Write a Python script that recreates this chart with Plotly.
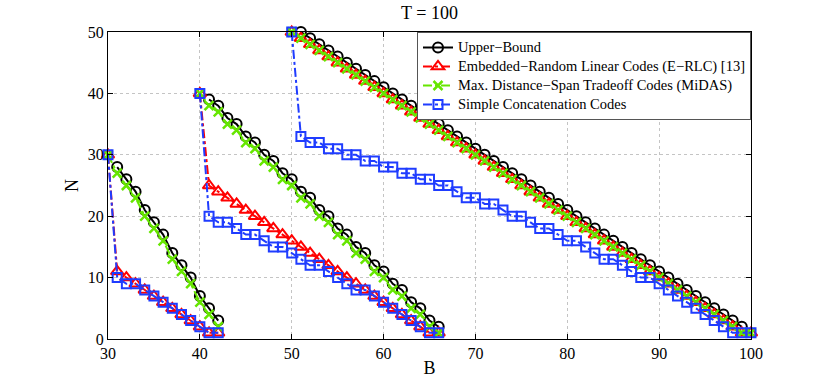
import plotly.graph_objects as go

# burst length B for each of the three curve families (N0 = 30, 40, 50)
b_g1 = list(range(30, 43))
b_g2 = list(range(40, 67))
b_g3 = list(range(50, 101))

# Upper bound (drawn from B0+1)
ub_b1 = list(range(31, 43))
ub_g1 = [28, 26, 24, 21, 19, 17, 14, 12, 10, 7, 5, 3]
ub_b2 = list(range(41, 67))
ub_g2 = [39, 38, 36, 35, 33, 32, 30, 29, 27, 26, 24, 23, 21, 20, 18, 17,
         15, 14, 12, 11, 9, 8, 6, 5, 3, 2]
ub_b3 = list(range(51, 100))
ub_g3 = [50, 49, 48, 47, 46, 45, 44, 43, 42, 41, 40, 39, 38, 37, 36, 35, 34,
         33, 32, 31, 30, 29, 28, 27, 26, 25, 24, 23, 22, 21, 20, 19, 18, 17,
         16, 15, 14, 13, 12, 11, 10, 9, 8, 7, 6, 5, 4, 3, 2]

# Embedded-Random Linear Codes
erlc_g1 = [30, 11, 10, 9, 8, 7, 6, 5, 4, 3, 2, 1, 1]
erlc_g2 = [40, 25, 24, 23, 22, 21, 20, 19, 18, 17, 16, 15, 14, 13, 12, 11,
           10, 9, 8, 7, 6, 5, 4, 3, 2, 1, 1]
erlc_g3 = [50, 49, 48, 47, 46, 45, 44, 43, 42, 41, 40, 39, 38, 37, 36, 35, 34,
           33, 32, 31, 30, 29, 28, 27, 26, 25, 24, 23, 22, 21, 20, 19, 18, 17,
           16, 15, 14, 13, 12, 11, 10, 9, 8, 7, 6, 5, 4, 3, 2, 1, 1]

# MiDAS
midas_g1 = [30, 27, 25, 23, 20, 18, 16, 13, 11, 9, 6, 4, 2]
midas_g2 = [40, 38, 37, 35, 34, 32, 31, 29, 28, 26, 25, 23, 22, 20, 19, 17,
            16, 14, 13, 11, 10, 8, 7, 5, 4, 2, 1]
midas_g3 = [50, 49, 48, 47, 46, 45, 44, 43, 42, 41, 40, 39, 38, 37, 36, 35, 34,
            33, 32, 31, 30, 29, 28, 27, 26, 25, 24, 23, 22, 21, 20, 19, 18, 17,
            16, 15, 14, 13, 12, 11, 10, 9, 8, 7, 6, 5, 4, 3, 2, 1, 1]

# Simple concatenation
simple_g1 = [30, 10, 9, 9, 8, 7, 6, 5, 4, 3, 2, 1, 1]
simple_g2 = [40, 20, 19, 19, 18, 17, 17, 16, 15, 15, 14, 13, 12, 12, 11, 10,
             9, 8, 8, 7, 6, 5, 4, 3, 2, 1, 1]
simple_g3 = [50, 33, 32, 32, 31, 31, 30, 30, 29, 29, 28, 28, 27, 27, 26, 26,
             25, 25, 24, 23, 23, 22, 22, 21, 20, 20, 19, 18, 18, 17, 16, 16,
             15, 14, 13, 13, 12, 11, 10, 10, 9, 8, 7, 6, 5, 4, 3, 2, 1, 1, 1]

FONT = "Liberation Serif, Times New Roman, serif"


def big(label):
    # legend rows stay tight (row height follows legend font size), text drawn larger
    return f'<span style="font-size:14.5px">{label}</span>'


series = [
    ("Upper−Bound", [(ub_b1, ub_g1), (ub_b2, ub_g2), (ub_b3, ub_g3)],
     dict(color="black", width=2, dash="solid"),
     dict(symbol="circle-open", size=10, color="black", line=dict(width=2, color="black"))),
    ("Embedded−Random Linear Codes (E−RLC) [13]",
     [(b_g1, erlc_g1), (b_g2, erlc_g2), (b_g3, erlc_g3)],
     dict(color="#ff0000", width=2, dash="dashdot"),
     dict(symbol="triangle-up-open", size=11, color="#ff0000", line=dict(width=2, color="#ff0000"))),
    ("Max. Distance−Span Tradeoff Codes (MiDAS)",
     [(b_g1, midas_g1), (b_g2, midas_g2), (b_g3, midas_g3)],
     dict(color="#66e600", width=2, dash="dashdot"),
     dict(symbol="x-thin-open", size=9, color="#66e600", line=dict(width=2.5, color="#66e600"))),
    ("Simple Concatenation Codes",
     [(b_g1, simple_g1), (b_g2, simple_g2), (b_g3, simple_g3)],
     dict(color="#1f3cff", width=2, dash="dashdot"),
     dict(symbol="square-open", size=9, color="#1f3cff", line=dict(width=2, color="#1f3cff"))),
]

fig = go.Figure()
for name, groups, line, marker in series:
    for i, (bx, ny) in enumerate(groups):
        fig.add_trace(go.Scatter(
            x=bx, y=ny, mode="lines+markers", name=big(name),
            legendgroup=name, showlegend=(i == 0),
            line=line, marker=marker, cliponaxis=False,
        ))

axis_common = dict(
    showline=True, linecolor="black", linewidth=1, mirror="ticks",
    ticks="inside", ticklen=5, tickcolor="black", automargin=False,
    showgrid=True, gridcolor="#c4c4c4", griddash="dot", gridwidth=1,
    zeroline=False, tickfont=dict(family=FONT, size=16, color="black"),
)

fig.update_layout(
    width=830, height=382,
    margin=dict(l=108, r=79, t=32, b=43),
    plot_bgcolor="white", paper_bgcolor="white",
    title=dict(text="T = 100", x=0.5, xref="paper", y=0.967, yref="container",
               yanchor="middle", font=dict(family=FONT, size=18, color="black")),
    xaxis=dict(range=[30, 100], tickvals=[30, 40, 50, 60, 70, 80, 90, 100],
               title=dict(text="B", font=dict(family=FONT, size=18, color="black"), standoff=0),
               **axis_common),
    yaxis=dict(range=[0, 50], tickvals=[0, 10, 20, 30, 40, 50],
               title=dict(text="N", font=dict(family=FONT, size=18, color="black"), standoff=4),
               **axis_common),
    legend=dict(x=1, y=1, xanchor="right", yanchor="top",
                bgcolor="white", bordercolor="#555555", borderwidth=1,
                font=dict(family=FONT, size=12, color="black"),
                tracegroupgap=0, itemwidth=30),
    showlegend=True,
)

# drop the page's default body margin so the figure sits at the window origin
fig.write_html("out.html", config={"displayModeBar": False},
               post_script="document.body.style.margin = '0';")
